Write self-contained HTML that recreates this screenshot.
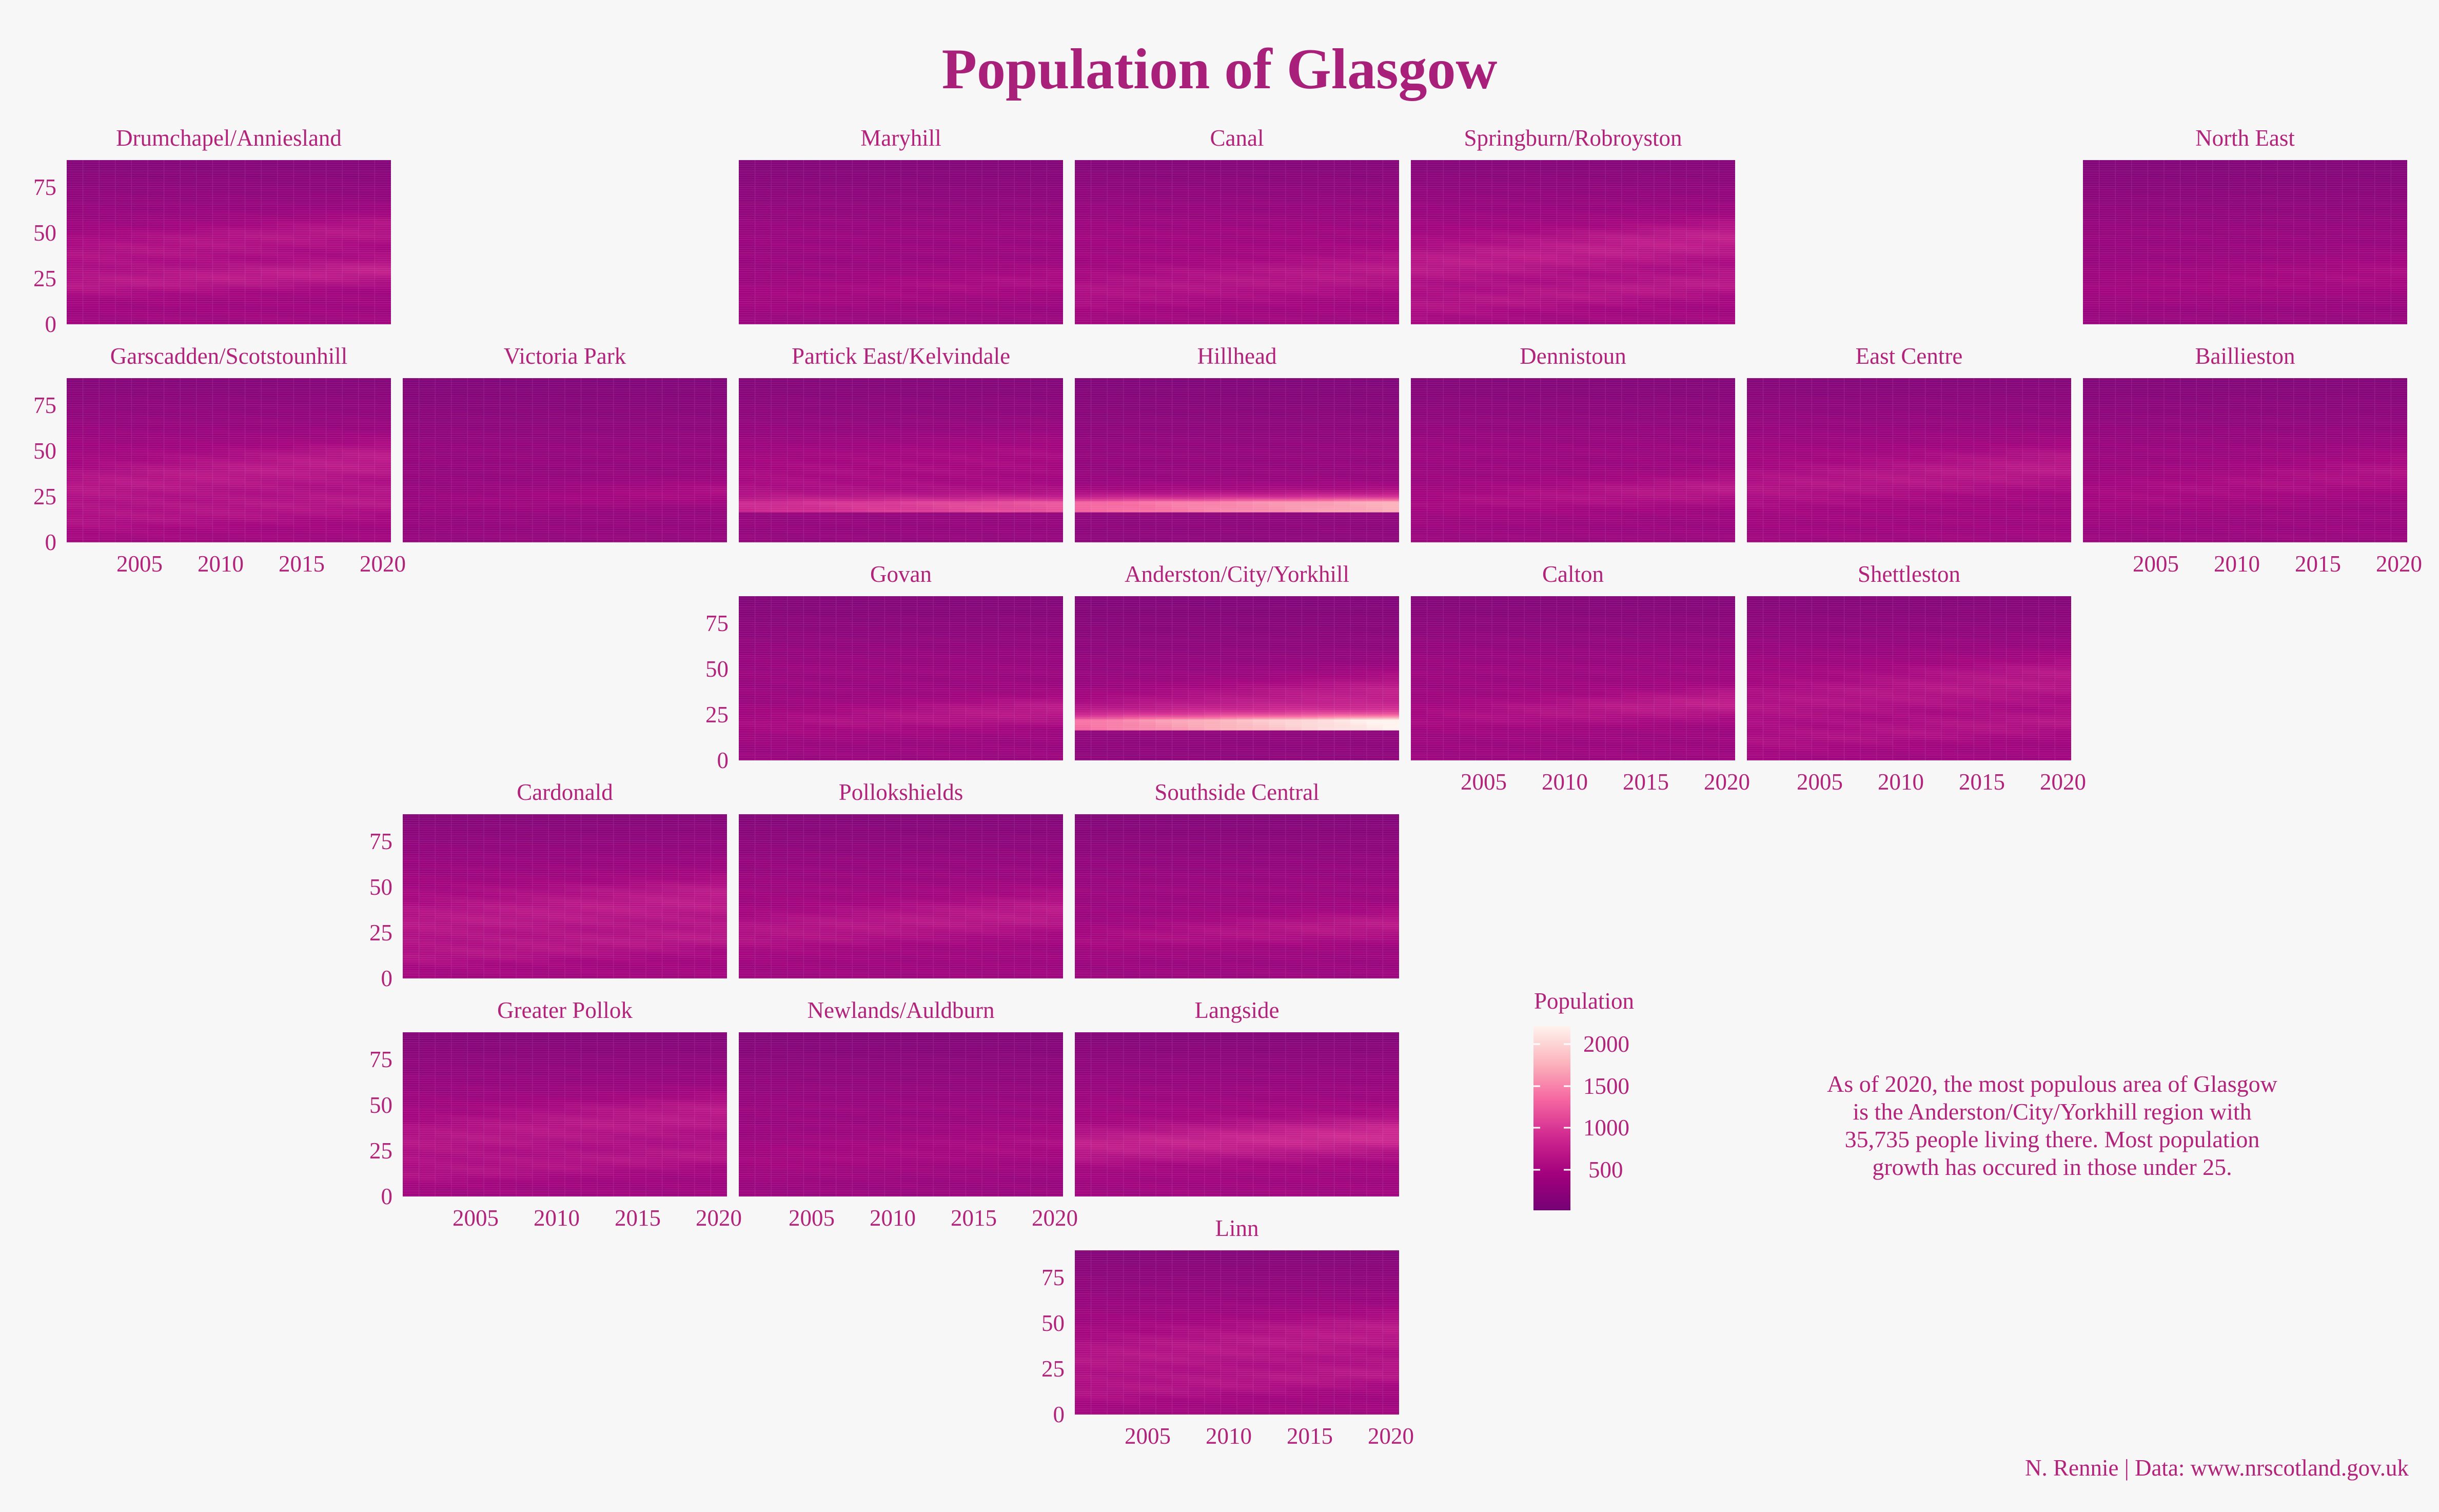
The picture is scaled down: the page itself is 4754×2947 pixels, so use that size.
<!DOCTYPE html>
<html><head><meta charset="utf-8"><style>
html,body{margin:0;padding:0;background:#f7f7f7}
svg{display:block}
text{font-family:"Liberation Serif",serif;fill:#b3237c}
.pt{font-size:45px;text-anchor:middle}
.yt{font-size:45px;text-anchor:end}
</style></head><body>
<svg id="s" width="4754" height="2947" viewBox="0 0 4754 2947" xmlns="http://www.w3.org/2000/svg" style="position:absolute;left:0;top:0">
<defs>
<linearGradient id="cb" x1="0" y1="1" x2="0" y2="0">
<stop offset="0" stop-color="#760175"/><stop offset="0.2" stop-color="#a3017d"/><stop offset="0.4" stop-color="#d02890"/><stop offset="0.6" stop-color="#f666a0"/><stop offset="0.8" stop-color="#fbb4bc"/><stop offset="1" stop-color="#fff3ee"/>
</linearGradient>
</defs>
<rect width="4754" height="2947" fill="#f7f7f7"/>
<g id="heat"></g>
<text x="2377" y="172" style="font-size:112px;font-weight:bold;text-anchor:middle;fill:#a8207a">Population of Glasgow</text>
<text x="2990" y="1966" style="font-size:45px">Population</text>
<rect x="2989" y="2000" width="72" height="359" fill="url(#cb)"/>
<g stroke="#fff" stroke-width="3"><line x1="2989" y1="2035" x2="3002" y2="2035"/><line x1="3048" y1="2035" x2="3061" y2="2035"/><line x1="2989" y1="2117" x2="3002" y2="2117"/><line x1="3048" y1="2117" x2="3061" y2="2117"/><line x1="2989" y1="2198" x2="3002" y2="2198"/><line x1="3048" y1="2198" x2="3061" y2="2198"/><line x1="2989" y1="2280" x2="3002" y2="2280"/><line x1="3048" y1="2280" x2="3061" y2="2280"/></g>
<text x="3086" y="2050" style="font-size:45px">2000</text>
<text x="3086" y="2132" style="font-size:45px">1500</text>
<text x="3086" y="2213" style="font-size:45px">1000</text>
<text x="3096" y="2295" style="font-size:45px">500</text>
<g style="font-size:46px;text-anchor:middle">
<text x="4000" y="2128">As of 2020, the most populous area of Glasgow</text>
<text x="4000" y="2182">is the Anderston/City/Yorkhill region with</text>
<text x="4000" y="2236">35,735 people living there. Most population</text>
<text x="4000" y="2290">growth has occured in those under 25.</text>
</g>
<text x="4695" y="2876" style="font-size:45px;text-anchor:end">N. Rennie | Data: www.nrscotland.gov.uk</text>

<g>
<text class="pt" x="446" y="284">Drumchapel/Anniesland</text>
<text class="pt" x="1756" y="284">Maryhill</text>
<text class="pt" x="2411" y="284">Canal</text>
<text class="pt" x="3066" y="284">Springburn/Robroyston</text>
<text class="pt" x="4376" y="284">North East</text>
<text class="pt" x="446" y="709">Garscadden/Scotstounhill</text>
<text class="pt" x="1101" y="709">Victoria Park</text>
<text class="pt" x="1756" y="709">Partick East/Kelvindale</text>
<text class="pt" x="2411" y="709">Hillhead</text>
<text class="pt" x="3066" y="709">Dennistoun</text>
<text class="pt" x="3721" y="709">East Centre</text>
<text class="pt" x="4376" y="709">Baillieston</text>
<text class="pt" x="1756" y="1134">Govan</text>
<text class="pt" x="2411" y="1134">Anderston/City/Yorkhill</text>
<text class="pt" x="3066" y="1134">Calton</text>
<text class="pt" x="3721" y="1134">Shettleston</text>
<text class="pt" x="1101" y="1559">Cardonald</text>
<text class="pt" x="1756" y="1559">Pollokshields</text>
<text class="pt" x="2411" y="1559">Southside Central</text>
<text class="pt" x="1101" y="1984">Greater Pollok</text>
<text class="pt" x="1756" y="1984">Newlands/Auldburn</text>
<text class="pt" x="2411" y="1984">Langside</text>
<text class="pt" x="2411" y="2409">Linn</text>
</g>
<g>
<text class="yt" x="110" y="647">0</text><text class="yt" x="110" y="558">25</text><text class="yt" x="110" y="469">50</text><text class="yt" x="110" y="380">75</text>
<text class="yt" x="110" y="1072">0</text><text class="yt" x="110" y="983">25</text><text class="yt" x="110" y="894">50</text><text class="yt" x="110" y="805">75</text>
<text class="yt" x="1420" y="1497">0</text><text class="yt" x="1420" y="1408">25</text><text class="yt" x="1420" y="1319">50</text><text class="yt" x="1420" y="1230">75</text>
<text class="yt" x="765" y="1922">0</text><text class="yt" x="765" y="1833">25</text><text class="yt" x="765" y="1744">50</text><text class="yt" x="765" y="1655">75</text>
<text class="yt" x="765" y="2347">0</text><text class="yt" x="765" y="2258">25</text><text class="yt" x="765" y="2169">50</text><text class="yt" x="765" y="2080">75</text>
<text class="yt" x="2075" y="2772">0</text><text class="yt" x="2075" y="2683">25</text><text class="yt" x="2075" y="2594">50</text><text class="yt" x="2075" y="2505">75</text>
</g>
<g style="font-size:45px;text-anchor:middle">
<text x="272" y="1114">2005</text><text x="430" y="1114">2010</text><text x="588" y="1114">2015</text><text x="746" y="1114">2020</text>
<text x="4202" y="1114">2005</text><text x="4360" y="1114">2010</text><text x="4518" y="1114">2015</text><text x="4676" y="1114">2020</text>
<text x="2892" y="1539">2005</text><text x="3050" y="1539">2010</text><text x="3208" y="1539">2015</text><text x="3366" y="1539">2020</text>
<text x="3547" y="1539">2005</text><text x="3705" y="1539">2010</text><text x="3863" y="1539">2015</text><text x="4021" y="1539">2020</text>
<text x="927" y="2389">2005</text><text x="1085" y="2389">2010</text><text x="1243" y="2389">2015</text><text x="1401" y="2389">2020</text>
<text x="1582" y="2389">2005</text><text x="1740" y="2389">2010</text><text x="1898" y="2389">2015</text><text x="2056" y="2389">2020</text>
<text x="2237" y="2814">2005</text><text x="2395" y="2814">2010</text><text x="2553" y="2814">2015</text><text x="2711" y="2814">2020</text>
</g>
</svg>
<script>
var PX0=130,PY0=312,CS=655,RS=425,PW=632,PH=320;
var stops=[[0,[118,1,117]],[0.2,[163,1,125]],[0.4,[208,40,144]],[0.6,[246,102,160]],[0.8,[251,180,188]],[1,[255,243,238]]];
function col(v){var t=Math.max(0,Math.min(1,v/2190));for(var i=1;i<stops.length;i++){if(t<=stops[i][0]){var a=stops[i-1],b=stops[i],f=(t-a[0])/(b[0]-a[0]);return "rgb("+[0,1,2].map(function(k){return Math.round(a[1][k]+(b[1][k]-a[1][k])*f)}).join(",")+")";}}return "rgb(255,243,238)";}
function g(x,m,w){return Math.exp(-(x-m)*(x-m)/(2*w*w));}
// [row,col,base,ridges[age2001,slope,amp,w,growth],student[amp,growth]]
var P=[
[0,0,420,[[22,0.4,200,5,120],[38,0.8,150,7,60]],null],
[0,2,360,[[15,0.5,90,6,80]],null],
[0,3,420,[[18,0.6,140,8,80]],null],
[0,4,450,[[32,0.8,220,8,60],[10,0.7,130,5,80]],null],
[0,6,330,[[20,0.4,100,8,80]],null],
[1,0,430,[[30,0.8,200,8,60],[12,0.6,120,6,80]],null],
[1,1,300,[[22,0.3,50,5,180]],null],
[1,2,380,[[35,0.7,110,10,0]],[420,380]],
[1,3,290,[],[1000,450]],
[1,4,370,[[22,0.4,110,6,170]],null],
[1,5,420,[[30,0.6,170,8,70]],null],
[1,6,360,[[25,0.7,120,8,80]],null],
[2,2,360,[[20,0.4,120,6,200]],null],
[2,3,300,[[30,0.4,140,8,250]],[1000,900]],
[2,4,380,[[24,0.4,110,6,230]],null],
[2,5,420,[[30,0.8,160,9,60],[10,0.6,100,5,80]],null],
[3,1,450,[[30,0.7,190,9,60],[12,0.6,110,5,80]],null],
[3,2,400,[[25,0.6,190,8,80]],null],
[3,3,370,[[22,0.4,120,6,170]],null],
[4,1,410,[[30,0.8,200,9,60],[12,0.6,120,5,80]],null],
[4,2,350,[[20,0.5,100,8,60]],null],
[4,3,420,[[28,0.3,300,7,160]],null],
[5,3,430,[[30,0.8,180,9,60],[12,0.6,120,5,80]],null]
];
var heat=document.getElementById("heat");var html="";
P.forEach(function(p){
 var x0=PX0+p[1]*CS,y0=PY0+p[0]*RS,cw=PW/20,rh=PH/90;
 html+='<svg x="'+x0+'" y="'+y0+'" width="'+PW+'" height="'+PH+'" overflow="hidden">';
 for(var yi=0;yi<20;yi++){for(var a=0;a<=90;a++){
  var f=a<50?1:Math.max(0.35,1-(a-50)/55);
  var v=p[2]*f*(0.93+0.07*Math.sin(a*0.7+yi));
  p[3].forEach(function(r){v+=(r[2]+r[4]*yi/19)*g(a,r[0]+r[1]*yi,r[3]);});
  if(p[4]){var s=p[4];var A=s[0]+s[1]*yi/19;
   if(a>=17){v+=A*(a<=22?1:Math.exp(-(a-22)/4));}
   else v*=0.8;}
  var top=PH-(a+0.5)*rh;
  html+='<rect x="'+(yi*cw).toFixed(1)+'" y="'+top.toFixed(1)+'" width="'+(cw+0.3).toFixed(1)+'" height="'+(rh+0.3).toFixed(2)+'" fill="'+col(v)+'"/>';
 }}
 var d="";for(var i=1;i<20;i++)d+="M"+(i*cw).toFixed(1)+" 0V"+PH;
 for(var j=0;j<=90;j++){var yy=(PH-(j+0.5)*rh).toFixed(1);d+="M0 "+yy+"H"+PW;}
 html+='<path d="'+d+'" stroke="#ffffff" stroke-opacity="0.13" stroke-width="1.2" fill="none"/></svg>';
});
heat.innerHTML=html;
</script>
</body></html>
